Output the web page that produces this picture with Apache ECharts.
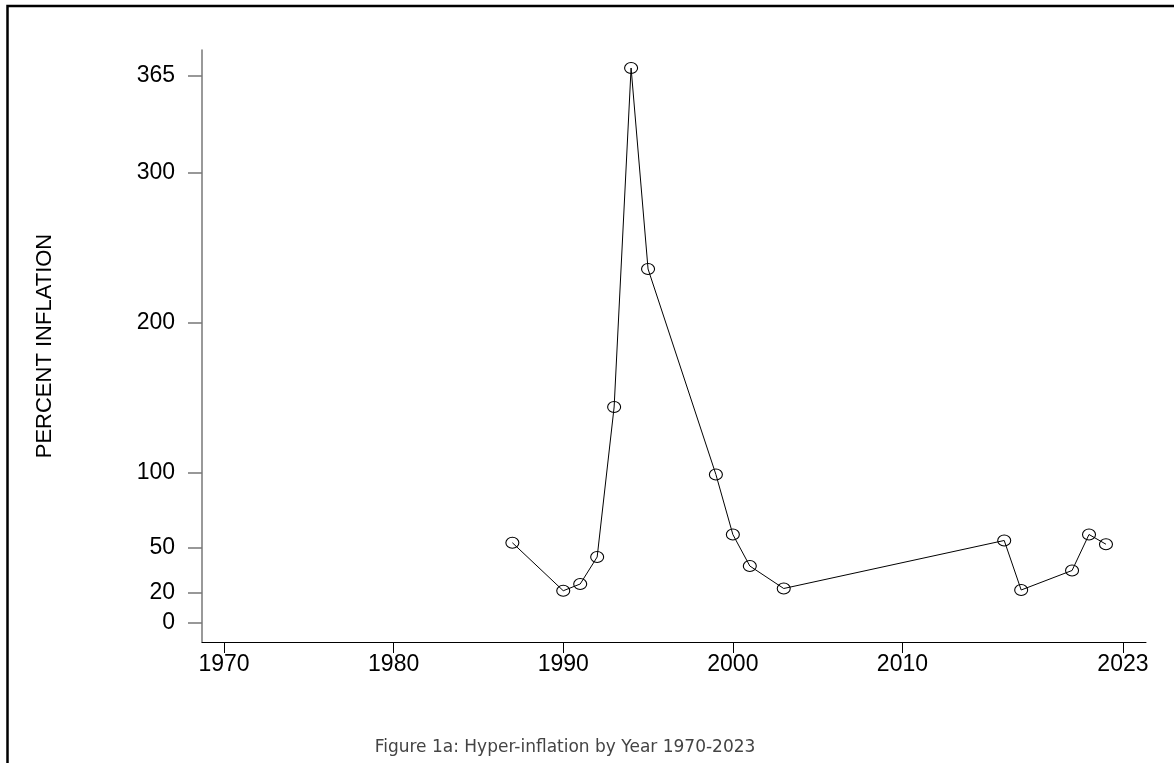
<!DOCTYPE html>
<html>
<head>
<meta charset="utf-8">
<title>Hyper-inflation by Year</title>
<script src="https://cdn.jsdelivr.net/npm/echarts@6/dist/echarts.min.js"></script>
<style>
  html, body { margin: 0; padding: 0; background: #fff; }
  #chart { width: 1174px; height: 763px; }
</style>
</head>
<body>
<div id="chart"></div>
<script>
// years with data points
var years = [1987, 1990, 1991, 1992, 1993, 1994, 1995, 1999, 2000, 2001, 2003, 2016, 2017, 2020, 2021, 2022];
// percent inflation per year
var inflation = [53.5, 21.5, 26, 44, 144, 370, 236, 99, 59, 38, 23, 55, 22, 35, 59, 52.5];
// axis ticks
var xTicks = [1970, 1980, 1990, 2000, 2010, 2023];
var yTicks = [0, 20, 50, 100, 200, 300, 365];

var points = years.map(function (y, i) { return [y, inflation[i]]; });

var chart = echarts.init(document.getElementById("chart"));
var font = "'Liberation Sans', Arial, sans-serif";

chart.setOption({
  backgroundColor: "#fff",
  animation: false,
  title: {
    text: "Figure 1a: Hyper-inflation by Year 1970-2023",
    left: 560,
    textAlign: "center",
    top: 734,
    textStyle: {
      fontFamily: "'DejaVu Sans', sans-serif",
      fontWeight: "normal",
      fontSize: 17,
      color: "#444"
    }
  },
  grid: {
    left: 202,
    right: 28,
    top: 50,
    bottom: 121,
    outerBoundsMode: "none"
  },
  xAxis: {
    type: "value",
    min: 1968.7,
    max: 2024.36,
    splitLine: { show: false },
    axisLine: { show: true, onZero: false, lineStyle: { color: "#000", width: 1 } },
    axisTick: { show: true, length: 11, customValues: xTicks, lineStyle: { color: "#000" } },
    axisLabel: {
      customValues: xTicks,
      margin: 11,
      fontFamily: font,
      fontSize: 23,
      color: "#000",
      formatter: function (v) { return String(v); }
    }
  },
  yAxis: {
    type: "value",
    min: -12.67,
    max: 382,
    name: "PERCENT INFLATION",
    nameLocation: "middle",
    nameGap: 146,
    nameRotate: 90,
    nameTextStyle: { fontFamily: font, fontSize: 22, color: "#000" },
    splitLine: { show: false },
    axisLine: { show: true, onZero: false, lineStyle: { color: "#777", width: 1.5 } },
    axisTick: { show: true, length: 14, customValues: yTicks, lineStyle: { color: "#777", width: 1.5 } },
    axisLabel: {
      customValues: yTicks,
      margin: 27,
      fontFamily: font,
      fontSize: 23,
      color: "#000"
    }
  },
  series: [
    {
      type: "line",
      data: points,
      symbol: "circle",
      symbolSize: [13, 11],
      lineStyle: { color: "#000", width: 1 },
      itemStyle: { color: "none", borderColor: "#000", borderWidth: 1 },
      z: 3
    }
  ],
  graphic: [
    {
      type: "polyline",
      shape: { points: [[7.5, 800], [7.5, 6], [1200, 6]] },
      style: { stroke: "#000", lineWidth: 2.5, fill: null },
      silent: true
    }
  ]
});
</script>
</body>
</html>
